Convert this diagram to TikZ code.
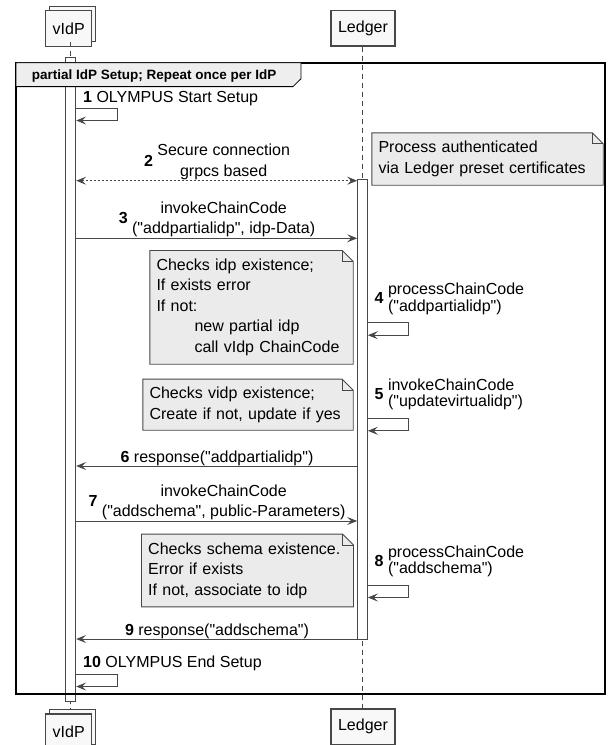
\documentclass[tikz,border=0pt]{standalone}
\usepackage{fontspec}
\setmainfont{Liberation Sans}[Ligatures=TeXOff]
\usetikzlibrary{arrows.meta}

\definecolor{linegray}{HTML}{474747}
\definecolor{notefill}{HTML}{EBEBEB}
\definecolor{partfill}{HTML}{F8F8F8}
\definecolor{headfill}{HTML}{EEEEEE}

\newcommand{\notecorner}[1]{%
  \fill[white] ([xshift=-11pt]#1.north east) -- (#1.north east) -- ([yshift=-11pt]#1.north east) -- cycle;
  \draw[notedraw] (#1.south west) -- (#1.north west) -- ([xshift=-11pt]#1.north east)
    -- ([yshift=-11pt]#1.north east) -- (#1.south east) -- cycle;
  \draw[notedraw] ([xshift=-11pt]#1.north east) |- ([yshift=-11pt]#1.north east);}

\begin{document}
\begin{tikzpicture}[x=1pt, y=-1pt, font=\fontsize{16}{20.5}\selectfont,
  part/.style={draw=linegray, fill=partfill, line width=1.2pt, minimum height=35.5pt, inner sep=0pt},
  bar/.style={draw=linegray, fill=white, line width=0.9pt, minimum width=9.8pt, inner sep=0pt},
  lifeline/.style={draw=linegray, line width=0.9pt, dash pattern=on 5pt off 4pt},
  msg/.style={draw=linegray, line width=1pt, -{Stealth[length=10pt, width=8pt, inset=4pt]}},
  note/.style={fill=notefill, inner xsep=6.5pt, inner ysep=0pt, align=left},
  notedraw/.style={draw=linegray, line width=0.9pt},
  lbl/.style={inner sep=0pt},
  selflbl/.style={inner sep=0pt, anchor=south west, execute at begin node={\renewcommand{\arraystretch}{0.73}}}]
\useasboundingbox (0,0) rectangle (608,745);

\node[part, minimum width=46pt] (vtopback) at (72.3,23.85) {};
\node[part, minimum width=46pt] (vtop) at (68.7,28.35) {vIdP};
\node[part, minimum width=64pt] (ltop) at (363,28.2) {Ledger};
\node[part, minimum width=46pt] (vbotback) at (72.3,727.1) {};
\node[part, minimum width=46pt] (vbot) at (68.7,731.8) {vIdP};
\node[part, minimum width=64pt] (lbot) at (363,726.8) {Ledger};

\draw[lifeline] (vtopback.south -| 70.5,0) -- (vbotback.north -| 70.5,0);
\draw[lifeline] (ltop.south -| 362,0) -- (lbot.north -| 362,0);

\node[bar, minimum height=644pt] (vbar) at (70.8,379) {};
\node[bar, minimum height=459.7pt] (lbar) at (362.5,409.15) {};

\draw[line width=2pt] (16,62.7) rectangle (605,694.3);
\draw[line width=0.8pt, fill=headfill] (16,62.7) -- (301,62.7) -- (301,78.7) -- (293,86.6) -- (16,86.6) -- cycle;
\node[lbl, anchor=base west, font=\fontsize{13.5}{15}\selectfont\bfseries] (grouplbl) at (31.7,79.3) {partial IdP Setup; Repeat once per IdP};

\coordinate (r1) at (0,108);
\coordinate (r2) at (0,180.7);
\coordinate (r3) at (0,238.3);
\coordinate (r4) at (0,322.7);
\coordinate (r5) at (0,418.3);
\coordinate (r6) at (0,466);
\coordinate (r7) at (0,521);
\coordinate (r8) at (0,585);
\coordinate (r9) at (0,639);
\coordinate (r10) at (0,674);

\node[note, text width=218pt, minimum height=52pt] (authnote) at (487.5,159) {Process authenticated\\via Ledger preset certificates};
\notecorner{authnote}
\node[note, text width=190pt, minimum height=113.3pt] (idpnote) at (251.5,307.35) {Checks idp existence;\\If exists error\\If not:\\\hspace*{38pt}new partial idp\\\hspace*{38pt}call vIdp ChainCode};
\notecorner{idpnote}
\node[note, text width=197pt, minimum height=50.7pt] (vidpnote) at (248,404.65) {Checks vidp existence;\\Create if not, update if yes};
\notecorner{vidpnote}
\node[note, text width=198.6pt, minimum height=72.4pt] (schemanote) at (247.5,570.5) {Checks schema existence.\\Error if exists\\If not, associate to idp};
\notecorner{schemanote}

\draw[msg] (vbar.east |- r1) -- ++(41,0) |- ([yshift=-12.5pt]vbar.east |- r1);
\node[lbl, anchor=base west] (l1) at (83,102.5) {\textbf{1} OLYMPUS Start Setup};

\draw[msg, {Stealth[length=10pt, width=8pt, inset=4pt]}-{Stealth[length=10pt, width=8pt, inset=4pt]}, dash pattern=on 2pt off 2pt] (vbar.east |- r2) -- (lbar.west |- r2);
\node[lbl, anchor=south] (l2) at (217,182.7) {\textbf{2} \begin{tabular}{@{}c@{}}Secure connection\\grpcs based\end{tabular}};

\draw[msg] (vbar.east |- r3) -- (lbar.west |- r3);
\node[lbl, anchor=south] (l3) at (217,240.3) {\textbf{3} \begin{tabular}{@{}c@{}}invokeChainCode\\("addpartialidp", idp-Data)\end{tabular}};

\draw[msg] (lbar.east |- r4) -- ++(41,0) |- ([yshift=-12.5pt]lbar.east |- r4);
\node[selflbl] (l4) at (374.5,315.7) {\textbf{4} \begin{tabular}{@{}l@{}}processChainCode\\("addpartialidp")\end{tabular}};

\draw[msg] (lbar.east |- r5) -- ++(41,0) |- ([yshift=-12.5pt]lbar.east |- r5);
\node[selflbl] (l5) at (374.5,411.3) {\textbf{5} \begin{tabular}{@{}l@{}}invokeChainCode\\("updatevirtualidp")\end{tabular}};

\draw[msg] (lbar.west |- r6) -- (vbar.east |- r6);
\node[lbl, anchor=base] (l6) at (217,462.3) {\textbf{6} response("addpartialidp")};

\draw[msg] (vbar.east |- r7) -- (lbar.west |- r7);
\node[lbl, anchor=south] (l7) at (217,523) {\textbf{7} \begin{tabular}{@{}c@{}}invokeChainCode\\("addschema", public-Parameters)\end{tabular}};

\draw[msg] (lbar.east |- r8) -- ++(41,0) |- ([yshift=-12.5pt]lbar.east |- r8);
\node[selflbl] (l8) at (374.5,578) {\textbf{8} \begin{tabular}{@{}l@{}}processChainCode\\("addschema")\end{tabular}};

\draw[msg] (lbar.west |- r9) -- (vbar.east |- r9);
\node[lbl, anchor=base] (l9) at (217,635.1) {\textbf{9} response("addschema")};

\draw[msg] (vbar.east |- r10) -- ++(41,0) |- ([yshift=-12.5pt]vbar.east |- r10);
\node[lbl, anchor=base west] (l10) at (83,667.8) {\textbf{10} OLYMPUS End Setup};
\end{tikzpicture}
\end{document}
